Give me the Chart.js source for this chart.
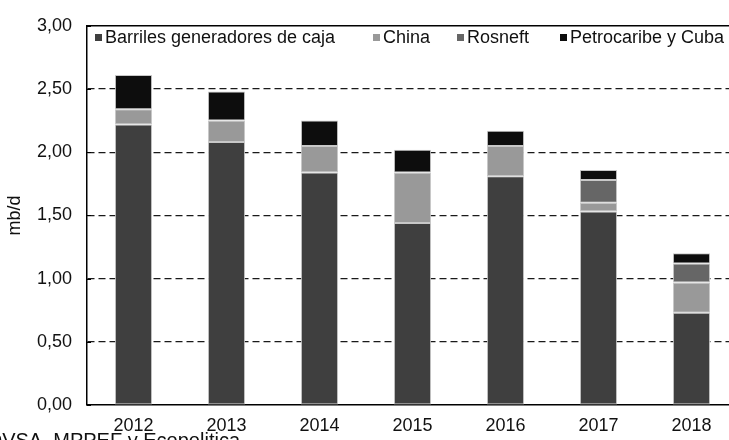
<!DOCTYPE html>
<html>
<head>
<meta charset="utf-8">
<script src="https://cdn.jsdelivr.net/npm/chart.js@4/dist/chart.umd.min.js"></script>
<style>
  html, body { margin: 0; padding: 0; background: #fff; overflow: hidden; }
  #wrap { width: 729px; height: 440px; overflow: hidden; position: relative; }
  #box { width: 760px; height: 440px; }
</style>
</head>
<body>
<div id="wrap"><div id="box"><canvas id="grafico"></canvas></div></div>
<script>
  // datos (mb/d)
  const years = ["2012", "2013", "2014", "2015", "2016", "2017", "2018"];
  const barriles = [2.22, 2.08, 1.84, 1.44, 1.81, 1.53, 0.73];
  const china = [0.12, 0.17, 0.21, 0.40, 0.24, 0.07, 0.24];
  const rosneft = [0, 0, 0, 0, 0, 0.18, 0.15];
  const petrocaribe = [0.27, 0.23, 0.20, 0.18, 0.12, 0.08, 0.08];
  const yTicks = [0, 0.5, 1, 1.5, 2, 2.5, 3];

  const fuente = "Liberation Sans, Arial, sans-serif";
  const serie = (label, data, color) => ({
    label: label,
    data: data,
    backgroundColor: color,
    borderColor: "#c8c8c8",
    borderWidth: (c) => (c.raw ? 1 : 0),
    borderSkipped: false,
    barPercentage: 0.4,
    categoryPercentage: 1,
  });

  // leyenda dentro del area, linea superior y marcas del eje
  const extras = {
    id: "extras",
    afterDraw(chart) {
      const ctx = chart.ctx;
      const area = chart.chartArea;
      const y = chart.scales.y;
      ctx.save();
      ctx.strokeStyle = "#000";
      ctx.lineWidth = 1.5;
      ctx.beginPath();
      ctx.moveTo(area.left, area.top);
      ctx.lineTo(area.right, area.top);
      ctx.stroke();
      ctx.lineWidth = 1;
      yTicks.forEach((v) => {
        const py = Math.round(y.getPixelForValue(v)) + 0.5;
        ctx.beginPath();
        ctx.moveTo(area.left, py);
        ctx.lineTo(area.left + 4, py);
        ctx.stroke();
      });

      const items = [
        { x: 95, text: "Barriles generadores de caja", ds: 0 },
        { x: 373, text: "China", ds: 1 },
        { x: 457, text: "Rosneft", ds: 2 },
        { x: 560, text: "Petrocaribe y Cuba", ds: 3 },
      ];
      ctx.font = "18px " + fuente;
      ctx.textBaseline = "middle";
      items.forEach((it) => {
        ctx.fillStyle = chart.data.datasets[it.ds].backgroundColor;
        ctx.fillRect(it.x, 34, 7, 7);
        ctx.fillStyle = "#111";
        ctx.fillText(it.text, it.x + 10, 38);
      });

      // fuente (cortada en el borde inferior)
      ctx.font = "20px " + fuente;
      ctx.textAlign = "right";
      ctx.textBaseline = "alphabetic";
      ctx.fillStyle = "#111";
      ctx.fillText("Fuente: PDVSA, MPPEF y Ecopolitica", 240, 447);
      ctx.restore();
    },
  };

  new Chart(document.getElementById("grafico"), {
    type: "bar",
    data: {
      labels: years,
      datasets: [
        serie("Barriles generadores de caja", barriles, "#3f3f3f"),
        serie("China", china, "#999999"),
        serie("Rosneft", rosneft, "#666666"),
        serie("Petrocaribe y Cuba", petrocaribe, "#0d0d0d"),
      ],
    },
    options: {
      responsive: true,
      maintainAspectRatio: false,
      animation: false,
      layout: { padding: { left: 0, right: 22, top: 15, bottom: 0 } },
      plugins: { legend: { display: false }, tooltip: { enabled: false } },
      scales: {
        x: {
          stacked: true,
          grid: { display: false, drawTicks: false },
          border: { display: true, color: "#000", width: 1.5 },
          ticks: { color: "#111", font: { family: fuente, size: 18 }, padding: 10, maxRotation: 0 },
          afterFit: (s) => { s.height = 35; },
        },
        y: {
          stacked: true,
          min: 0,
          max: 3,
          afterBuildTicks: (s) => { s.ticks = yTicks.map((v) => ({ value: v })); },
          grid: {
            drawTicks: false,
            color: (c) => (c.tick && (c.tick.value === 0 || c.tick.value === 3) ? "rgba(0,0,0,0)" : "#1a1a1a"),
            lineWidth: 1.2,
          },
          border: { display: true, color: "#000", width: 1.5, dash: [7, 4] },
          ticks: {
            color: "#111",
            font: { family: fuente, size: 18 },
            padding: 15,
            callback: (v) => Number(v).toFixed(2).replace(".", ","),
          },
          title: { display: true, text: "mb/d", color: "#111", font: { family: fuente, size: 18 } },
          afterFit: (s) => { s.width = 87; },
        },
      },
    },
    plugins: [extras],
  });
</script>
</body>
</html>
